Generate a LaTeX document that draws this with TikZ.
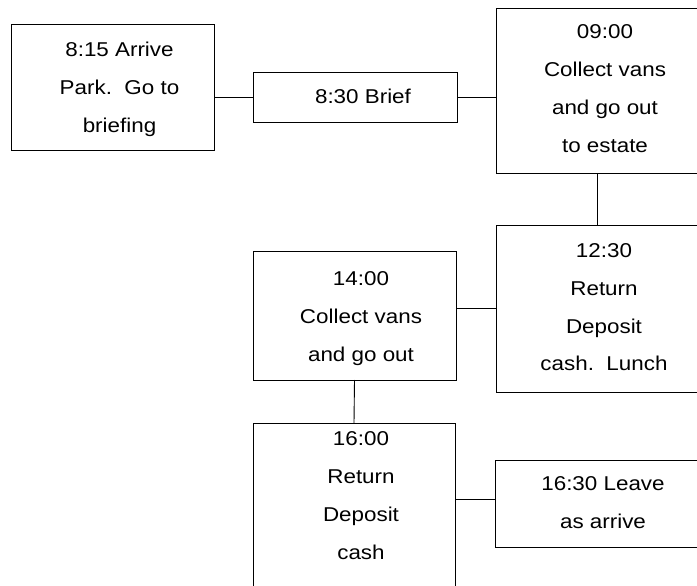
\documentclass[tikz,border=0pt]{standalone}
\usepackage{fontspec}
\setmainfont{Liberation Sans}[FakeStretch=1.12]
\begin{document}
\begin{tikzpicture}[x=1pt,y=-1pt,
  box/.style={draw=black, line width=0.9pt, inner sep=0pt, outer sep=0pt, fill=none},
  txt/.style={inner sep=0pt, outer sep=0pt, anchor=base, font=\fontsize{20}{38}\selectfont},
  conn/.style={draw=black, line width=0.9pt}]
\useasboundingbox[fill=white] (0,0) rectangle (697,586);
\clip (0,0) rectangle (697,586);
\node[box, minimum width=203pt, minimum height=126pt] (b1) at (112.5,87) {};
\node[box, minimum width=204pt, minimum height=50pt] (b2) at (355,97) {};
\node[box, minimum width=202pt, minimum height=165pt] (b3) at (597,90.5) {};
\node[box, minimum width=202pt, minimum height=167pt] (b4) at (597,308.5) {};
\node[box, minimum width=203pt, minimum height=129pt] (b5) at (354.5,315.5) {};
\node[box, minimum width=202pt, minimum height=177pt] (b6) at (354,511.5) {};
\node[box, minimum width=203pt, minimum height=87pt] (b7) at (596.5,503.5) {};
\node[txt] (t1) at (119.5,57) {\begin{tabular}[t]{@{}c@{}}8:15 Arrive\\Park.\ \ Go to\\briefing\end{tabular}};
\node[txt] (t2) at (363,103) {8:30 Brief};
\node[txt] (t3) at (605,39) {\begin{tabular}[t]{@{}c@{}}09:00\\Collect vans\\and go out\\to estate\end{tabular}};
\node[txt] (t4) at (604,257) {\begin{tabular}[t]{@{}c@{}}12:30\\Return\\Deposit\\cash.\ \ Lunch\end{tabular}};
\node[txt] (t5) at (361,285) {\begin{tabular}[t]{@{}c@{}}14:00\\Collect vans\\and go out\end{tabular}};
\node[txt] (t6) at (361,445) {\begin{tabular}[t]{@{}c@{}}16:00\\Return\\Deposit\\cash\end{tabular}};
\node[txt] (t7) at (603,490) {\begin{tabular}[t]{@{}c@{}}16:30 Leave\\as arrive\end{tabular}};
\coordinate (c7) at ([yshift=4.5pt]b7.west);
\draw[conn] (b2.west) -- (b2.west -| b1.east);
\draw[conn] (b2.east) -- (b2.east -| b3.west);
\draw[conn] (b3.south) -- (b4.north);
\draw[conn] (b4.west) -- (b4.west -| b5.east);
\draw[conn] (b5.south) -- (b6.north);
\draw[conn] (c7) -- (c7 -| b6.east);
\end{tikzpicture}
\end{document}
